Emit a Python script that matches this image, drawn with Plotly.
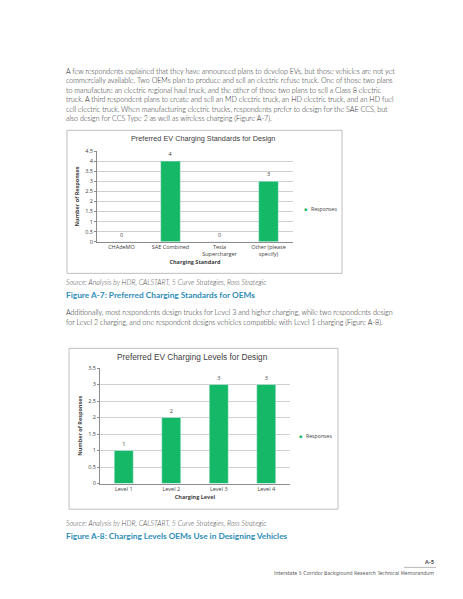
import plotly.graph_objects as go

W, H = 463, 599

# chart data
standards = ["CHAdeMO", "SAE Combined", "Tesla<br>Supercharger", "Other (please<br>specify)"]
standard_counts = [0, 4, 0, 3]
levels = ["Level 1", "Level 2", "Level 3", "Level 4"]
level_counts = [1, 2, 3, 3]

para1 = [
    "A few respondents explained that they have announced plans to develop EVs, but those vehicles are not yet",
    "commercially available. Two OEMs plan to produce and sell an electric refuse truck. One of those two plans",
    "to manufacture an electric regional haul truck, and the other of those two plans to sell a Class 8 electric",
    "truck. A third respondent plans to create and sell an MD electric truck, an HD electric truck, and an HD fuel",
    "cell electric truck. When manufacturing electric trucks, respondents prefer to design for the SAE CCS, but",
    "also design for CCS Type 2 as well as wireless charging (Figure A-7).",
]
para2 = [
    "Additionally, most respondents design trucks for Level 3 and higher charging, while two respondents design",
    "for Level 2 charging, and one respondent designs vehicles compatible with Level 1 charging (Figure A-8).",
]
source = "Source: Analysis by HDR, CALSTART, 5 Curve Strategies, Ross Strategic"
cap7 = "Figure A-7: Preferred Charging Standards for OEMs"
cap8 = "Figure A-8: Charging Levels OEMs Use in Designing Vehicles"

GREEN = "#14b866"
TEAL = "#2f8db8"
BODY = "Lato, 'Open Sans', sans-serif"
CHART = "'Open Sans', Lato, sans-serif"


def px(x):
    return x / W


def py(y):
    return 1 - y / H


fig = go.Figure()
fig.add_trace(go.Bar(
    x=standards, y=standard_counts, marker_color=GREEN, width=0.4,
    text=standard_counts, textposition="outside", cliponaxis=False,
    textfont=dict(size=5.5, color="#404040"), xaxis="x", yaxis="y",
    showlegend=False,
))
fig.add_trace(go.Bar(
    x=levels, y=level_counts, marker_color=GREEN, width=0.4,
    text=level_counts, textposition="outside", cliponaxis=False,
    textfont=dict(size=5.5, color="#404040"), xaxis="x2", yaxis="y2",
    showlegend=False,
))

axis_common = dict(
    tickfont=dict(size=5.5, color="#404040", family=CHART),
    showline=True, linecolor="#8c8c8c", linewidth=0.8,
)
fig.update_layout(
    width=W, height=H, margin=dict(l=0, r=0, t=0, b=0),
    paper_bgcolor="white", plot_bgcolor="white",
    bargap=0.6,
    xaxis=dict(domain=[px(97), px(293)], anchor="y", **axis_common,
               ticks="", title=dict(text="<b>Charging Standard</b>",
                                    font=dict(size=5.5, color="#404040", family=CHART),
                                    standoff=2)),
    yaxis=dict(domain=[py(241), py(149)], anchor="x", range=[0, 4.5], dtick=0.5,
               showgrid=True, gridcolor="#d0d0d0", gridwidth=0.8, **axis_common,
               ticks="outside", ticklen=2, tickcolor="#8c8c8c",
               title=dict(text="<b>Number of Responses</b>",
                          font=dict(size=5.5, color="#404040", family=CHART),
                          standoff=5)),
    xaxis2=dict(domain=[px(100), px(290)], anchor="y2", **axis_common,
                ticks="", title=dict(text="<b>Charging Level</b>",
                                     font=dict(size=5.5, color="#404040", family=CHART),
                                     standoff=2)),
    yaxis2=dict(domain=[py(486), py(369)], anchor="x2", range=[0, 3.5], dtick=0.5,
                showgrid=True, gridcolor="#d0d0d0", gridwidth=0.8, **axis_common,
                ticks="outside", ticklen=2, tickcolor="#8c8c8c",
                title=dict(text="<b>Number of Responses</b>",
                           font=dict(size=5.5, color="#404040", family=CHART),
                           standoff=5)),
)

# chart frames
for x0, y0, x1, y1 in [(67, 128, 342, 273), (69, 349, 338, 512)]:
    fig.add_shape(type="rect", xref="paper", yref="paper",
                  x0=px(x0), x1=px(x1), y0=py(y0), y1=py(y1),
                  line=dict(color="#bfbfbf", width=1))

ann = []


def text(x, y, s, size, color="#333333", family=BODY, xanchor="left", weight=None, **kw):
    font = dict(size=size, color=color, family=family)
    if weight:
        font["weight"] = weight
    ann.append(dict(x=px(x), y=py(y), xref="paper", yref="paper", text=s,
                    showarrow=False, xanchor=xanchor, yanchor="middle",
                    font=font, **kw))


for i, line in enumerate(para1):
    text(64, 68 + i * 9.7, line, 7.1, "#262626", weight=300)
for i, line in enumerate(para2):
    text(64, 313 + i * 9.7, line, 7.1, "#262626", weight=300)

# chart titles
text(203, 136, "Preferred EV Charging Standards for Design", 7.3, "#404040",
     "'Liberation Sans', Arial, sans-serif", xanchor="center")
text(192, 358, "Preferred EV Charging Levels for Design", 8.3, "#404040",
     "'Liberation Sans', Arial, sans-serif", xanchor="center")

# legends
for x, y in ((305, 208), (300, 438)):
    text(x, y, "■", 5, GREEN, xanchor="center")
    text(x + 3.5, y, "Responses", 5.2, "#404040", CHART)

# sources and captions
text(64, 282, "<i>" + source + "</i>", 7, "#4a4a4a", weight=300)
text(64, 295, "<b>" + cap7 + "</b>", 8.3, TEAL)
text(64, 526, "<i>" + source + "</i>", 7, "#4a4a4a", weight=300)
text(64, 539, "<b>" + cap8 + "</b>", 8.3, TEAL)

# footer
text(436, 566, "<b>A-5</b>", 5.5, "#333333", xanchor="right")
text(436, 577, "Interstate 5 Corridor Background Research Technical Memorandum", 5.3,
     "#555555", "'Liberation Sans Narrow', 'DejaVu Sans Condensed', sans-serif",
     xanchor="right")
fig.add_shape(type="line", xref="paper", yref="paper",
              x0=px(404), x1=px(436), y0=py(571), y1=py(571),
              line=dict(color="#888888", width=0.6))

fig.update_layout(annotations=ann)
fig.write_html("out.html", config={"displayModeBar": False},
               post_script="document.body.style.margin = '0';")
